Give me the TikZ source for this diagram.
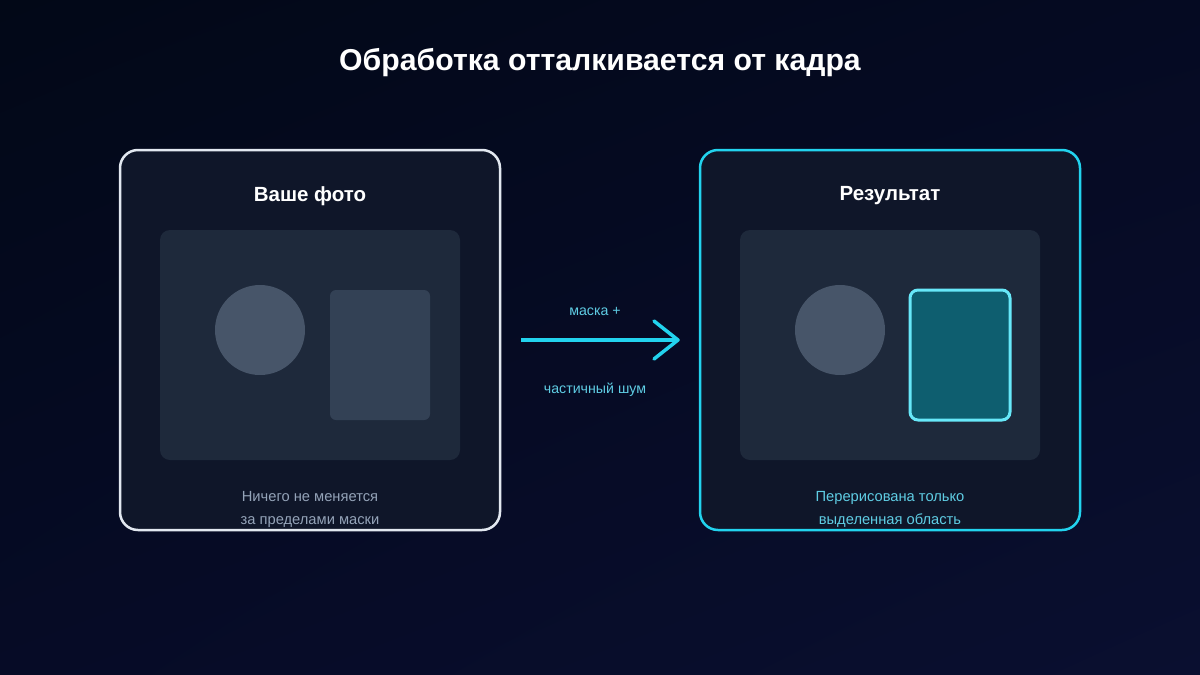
\documentclass[tikz,border=0pt]{standalone}
\usepackage{fontspec}
\setmainfont{Liberation Sans}
\usetikzlibrary{arrows.meta,calc,positioning,shadings}
\definecolor{bgtl}{HTML}{020817}
\definecolor{bgtr}{HTML}{050A22}
\definecolor{bgbl}{HTML}{060B26}
\definecolor{bgbr}{HTML}{0A0F30}
\definecolor{cardfill}{HTML}{0F1629}
\definecolor{framefill}{HTML}{1E293B}
\definecolor{shapegray}{HTML}{475569}
\definecolor{rectgray}{HTML}{334155}
\definecolor{cyanline}{HTML}{22D3EE}
\definecolor{cyanlight}{HTML}{67E8F9}
\definecolor{cyantext}{HTML}{5FCDE4}
\definecolor{masked}{HTML}{0E5E6F}
\definecolor{edgewhite}{HTML}{E2E8F0}
\definecolor{notegray}{HTML}{94A3B8}
\tikzset{
    card/.style={draw,line width=2.5pt,fill=cardfill,rounded corners=18pt,
                 minimum width=380pt,minimum height=380pt},
    frame/.style={fill=framefill,rounded corners=10pt,
                  minimum width=300pt,minimum height=230pt},
    cardtitle/.style={text=white,font=\fontsize{20.5}{24}\selectfont\bfseries},
    note/.style={font=\fontsize{14.7}{23}\selectfont,align=center},
    flowlabel/.style={text=cyantext,font=\fontsize{14.2}{17}\selectfont}
}
\begin{document}
\begin{tikzpicture}[x=1pt,y=-1pt]
        \shade[upper left=bgtl,upper right=bgtr,lower left=bgbl,lower right=bgbr] (0,0) rectangle (1200,675);
        \useasboundingbox (0,0) rectangle (1200,675);

        \node[text=white,font=\fontsize{30.2}{36}\selectfont\bfseries] (title) at (600,63) {Обработка отталкивается от кадра};

        \node[card,draw=edgewhite] (photo) at (310,340) {};
        \node[card,draw=cyanline] (result) at (890,340) {};

        \foreach \c/\t in {photo/Ваше фото,result/Результат}{
            \node[cardtitle] (\c-title) at ($(\c.north)+(0,47)$) {\t};
            \node[frame] (\c-frame) at ($(\c.center)+(0,5)$) {};
            \fill[shapegray] ($(\c-frame.center)+(-50,-15)$) circle[radius=45];
        }
        \draw[fill=rectgray,draw=none,rounded corners=6pt] (330,290) rectangle (430,420);
        \draw[fill=masked,draw=cyanlight,line width=3pt,rounded corners=8pt] (910,290) rectangle (1010,420);

        \node[note,text=notegray] (photo-note) at ($(photo.south)+(0,-22)$) {Ничего не меняется\\за пределами маски};
        \node[note,text=cyantext] (result-note) at ($(result.south)+(0,-22)$) {Перерисована только\\выделенная область};

        \draw[cyanline,line width=3.5pt,shorten <=20pt,shorten >=19pt,
              -{Straight Barb[length=24pt,width=38pt,round]}] (photo.east) -- (result.west)
            node[flowlabel,pos=0.5,xshift=-5pt,above=19pt] (mask) {маска +}
            node[flowlabel,pos=0.5,xshift=-5pt,below=38pt] (noise) {частичный шум};
\end{tikzpicture}
\end{document}
